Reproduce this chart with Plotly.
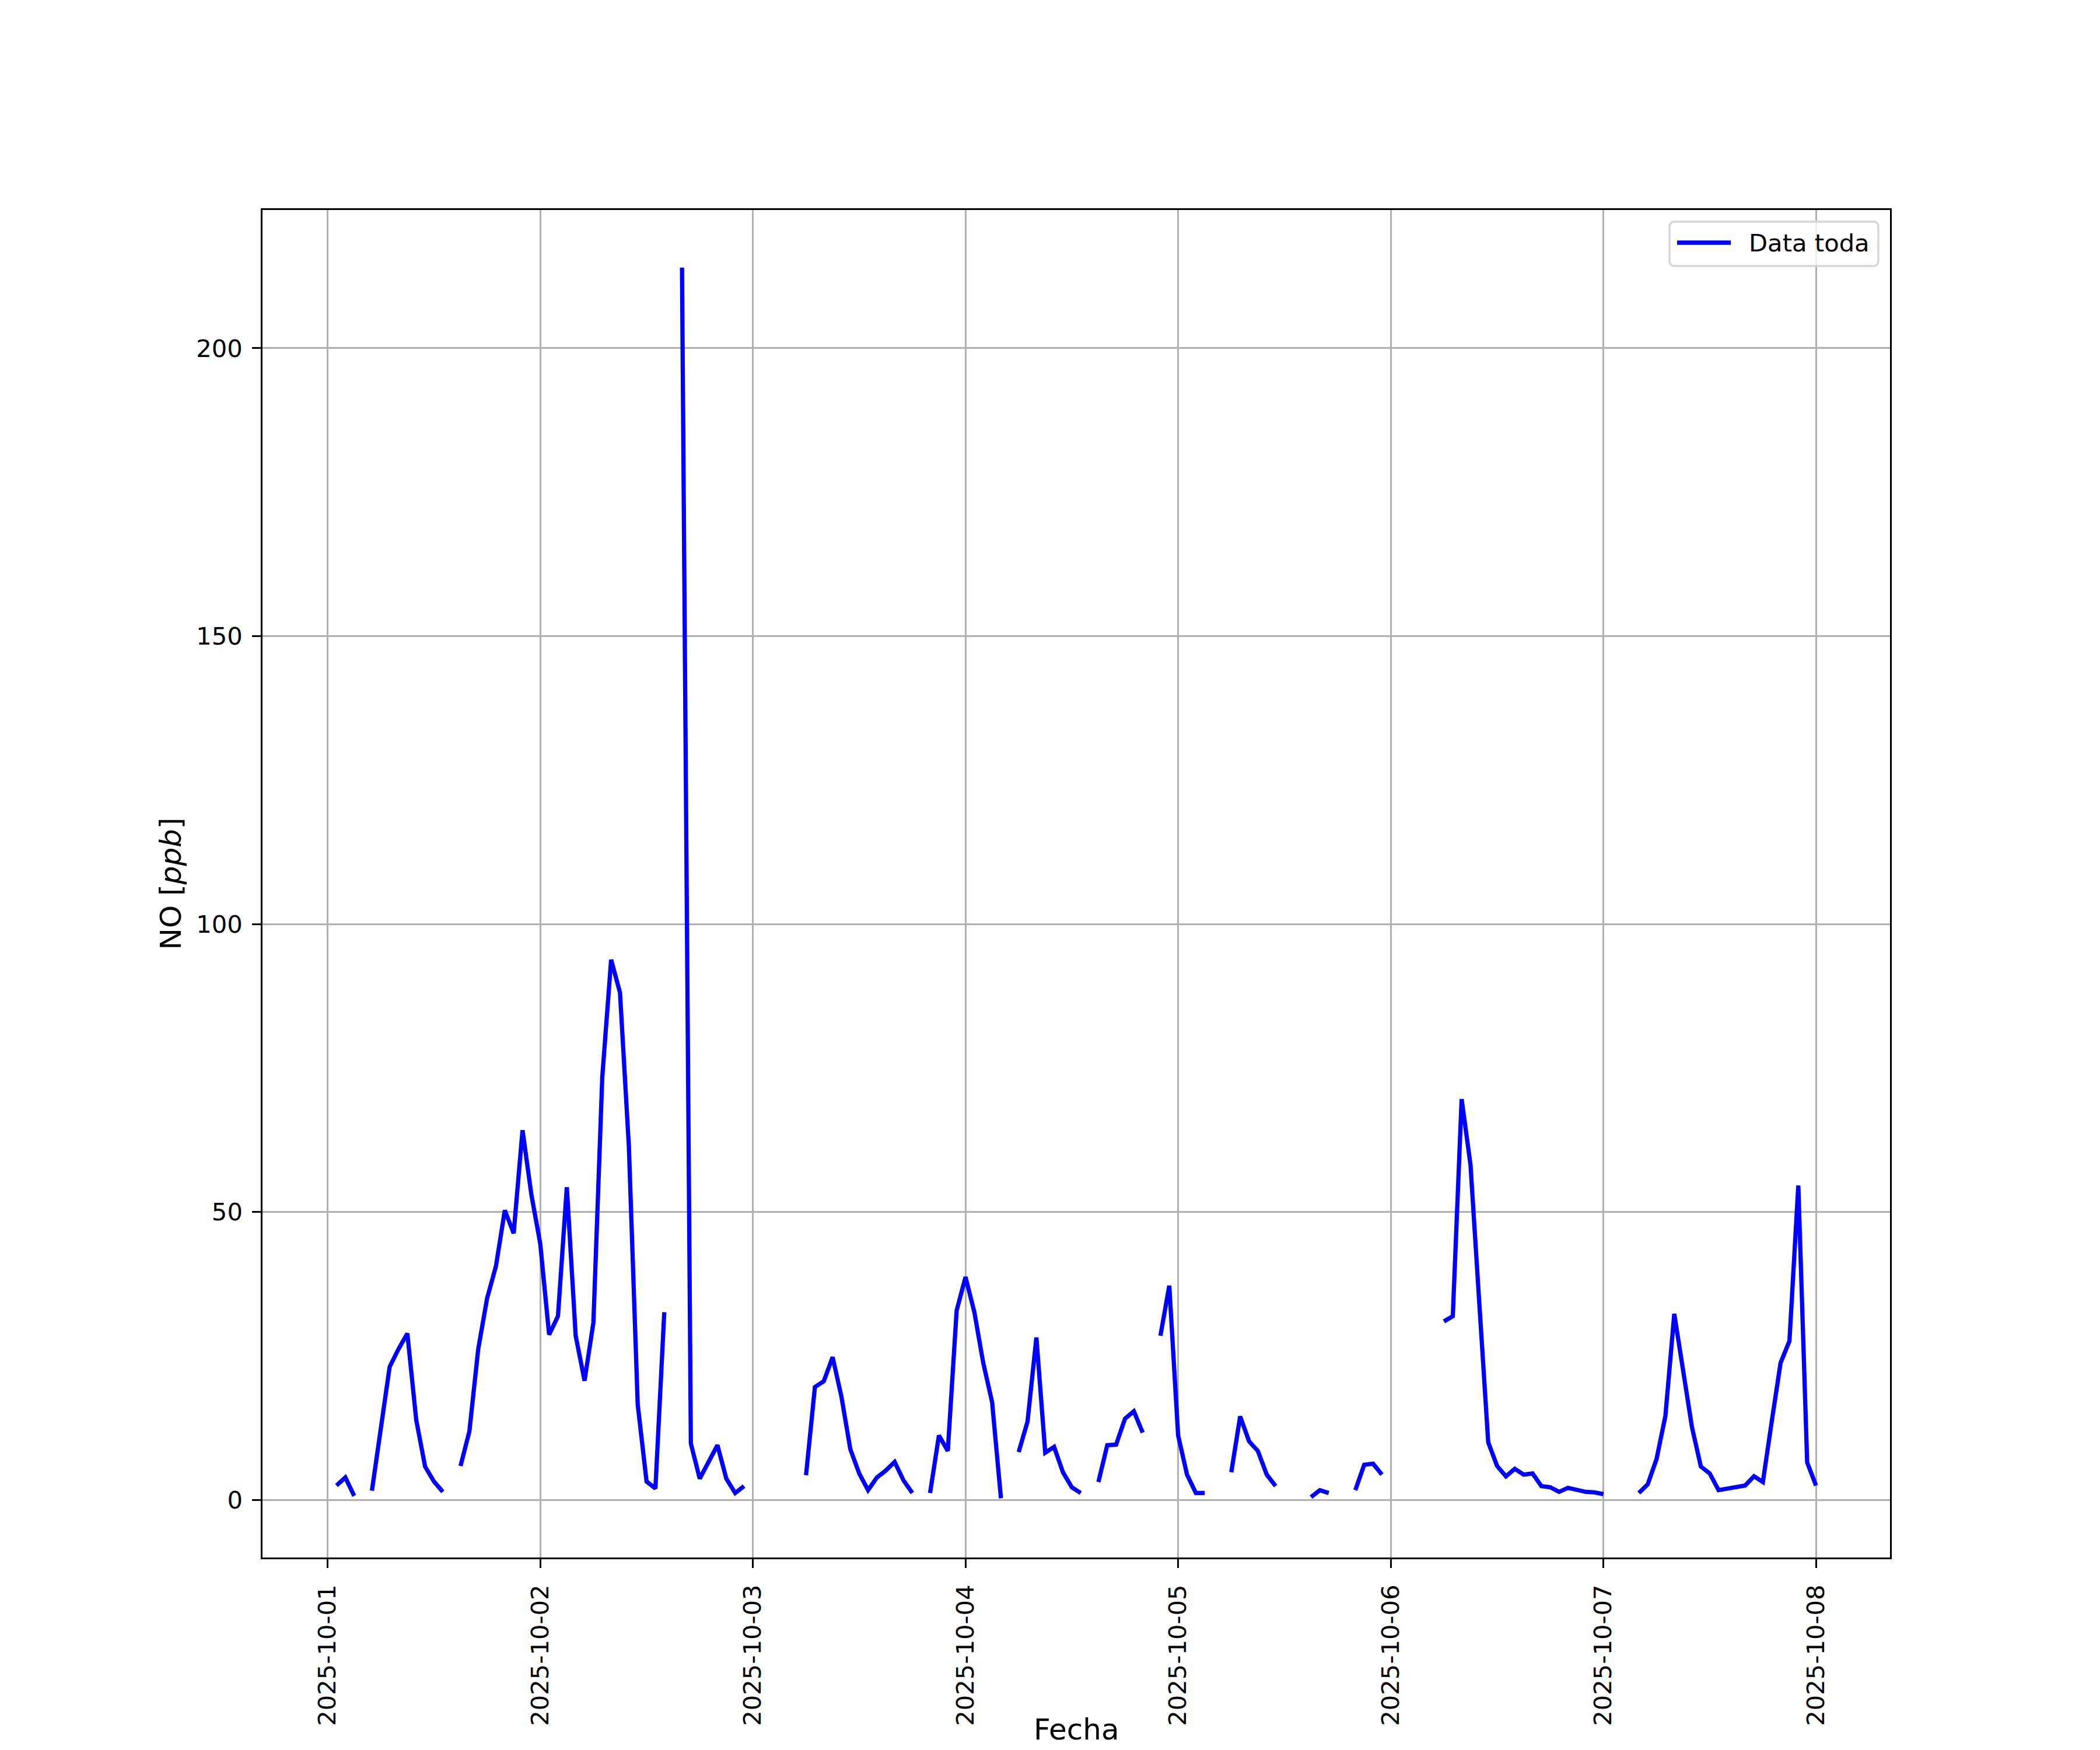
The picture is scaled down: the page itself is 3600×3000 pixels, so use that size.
import pandas as pd
import plotly.graph_objects as go

N = None
# Hourly NO [ppb] values, one list per day (hours 00..23); None = missing
oct01 = [N, 2.5, 3.9, 0.7, N, 1.6, 12.5, 23.1, 26.2, 28.9, 13.9, 5.8,
         3.2, 1.4, N, 5.9, 11.9, 26.2, 35.0, 40.6, 50.3, 46.3, 64.2, 53.0]
oct02 = [44.5, 28.7, 31.9, 54.3, 28.5, 20.7, 30.8, 73.4, 93.8, 88.1, 61.5, 16.6,
         3.2, 2.0, 32.6, N, 214.0, 9.8, 3.7, 6.8, 9.5, 3.7, 1.2, 2.4]
oct03 = [N, N, N, N, N, N, 4.3, 19.6, 20.6, 24.8, 17.9, 8.8,
         4.6, 1.7, 3.9, 5.1, 6.6, 3.4, 1.2, N, 1.2, 11.2, 8.5, 32.9]
oct04 = [38.7, 32.6, 23.8, 17.0, 0.3, N, 8.3, 13.6, 28.2, 8.2, 9.2, 4.8,
         2.2, 1.2, N, 3.1, 9.5, 9.6, 14.1, 15.4, 11.7, N, 28.5, 37.2]
oct05 = [11.2, 4.4, 1.2, 1.2, N, N, 4.8, 14.5, 10.2, 8.5, 4.4, 2.4,
         N, N, N, 0.5, 1.7, 1.2, N, N, 1.7, 6.1, 6.3, 4.4]
oct06 = [N, N, N, N, N, N, 31.0, 31.9, 69.6, 58.2, 34.0, 10.0,
         5.9, 4.1, 5.4, 4.4, 4.6, 2.4, 2.2, 1.4, 2.1, 1.8, 1.4, 1.3]
oct07 = [1.0, N, N, N, 1.2, 2.7, 7.1, 14.6, 32.3, 22.4, 12.6, 5.8,
         4.6, 1.7, 2.0, 2.2, 2.5, 4.1, 3.1, 13.6, 23.8, 27.6, 54.6, 6.5]
oct08 = [2.5]

values = oct01 + oct02 + oct03 + oct04 + oct05 + oct06 + oct07 + oct08
times = pd.date_range("2025-10-01 00:00", periods=len(values), freq="h")

day_ticks = ["2025-10-01", "2025-10-02", "2025-10-03", "2025-10-04",
             "2025-10-05", "2025-10-06", "2025-10-07", "2025-10-08"]
y_ticks = [0, 50, 100, 150, 200]

series_name = "Data toda"
x_title = "Fecha"
y_title = "NO [<i>ppb</i>]"

BLUE = "#0000ff"
FONT = "DejaVu Sans"
OFF = 8  # page body margin offset
W, H = 3600 - OFF, 3000 - OFF
L, T = 450 - OFF, 360 - OFF
PW, PH = 2790, 2310
R, B = W - L - PW, H - T - PH

fig = go.Figure()
fig.add_trace(go.Scatter(
    x=times, y=values, mode="lines", name=series_name,
    line=dict(color=BLUE, width=7.3), connectgaps=False, showlegend=False,
))

axis_common = dict(
    showline=True, linecolor="black", linewidth=3.3, mirror=True,
    ticks="outside", ticklen=14.6, tickwidth=3.3, tickcolor="black",
    showgrid=True, gridcolor="#b0b0b0", gridwidth=3.3, zeroline=False,
    tickfont=dict(family=FONT, size=41.7, color="black"),
)

fig.update_layout(
    width=W, height=H,
    margin=dict(l=L, r=R, t=T, b=B, autoexpand=False),
    paper_bgcolor="white", plot_bgcolor="white",
    font=dict(family=FONT, color="black"),
    xaxis=dict(
        axis_common, type="date",
        range=["2025-09-30 16:39:00", "2025-10-08 08:21:00"],
        tickvals=day_ticks, ticktext=day_ticks, tickangle=-90,
        ticklabelstandoff=12, automargin=False,
    ),
    yaxis=dict(
        axis_common, range=[-10.0, 224.0], tickvals=y_ticks,
        ticklabelstandoff=8, automargin=False,
        title=dict(text=y_title, font=dict(family=FONT, size=50, color="black"), standoff=10),
    ),
)

def fx(px):
    return (px - OFF - L) / PW

def fy(py):
    return (H + OFF - B - py) / PH

# x-axis title placed like matplotlib's (centered under the axes)
fig.add_annotation(text=x_title, xref="paper", yref="paper",
                   x=0.5, y=fy(2965), xanchor="center", yanchor="middle",
                   showarrow=False, font=dict(family=FONT, size=50, color="black"))

# Legend drawn in matplotlib style (upper right, rounded frame)
x0, x1, y0, y1, r = 2862, 3220, 380, 456, 9
rx, ry = r / PW, r / PH
X0, X1, Yt, Yb = fx(x0), fx(x1), fy(y0), fy(y1)
path = (
    f"M {X0+rx},{Yt} L {X1-rx},{Yt} Q {X1},{Yt} {X1},{Yt-ry} "
    f"L {X1},{Yb+ry} Q {X1},{Yb} {X1-rx},{Yb} "
    f"L {X0+rx},{Yb} Q {X0},{Yb} {X0},{Yb+ry} "
    f"L {X0},{Yt-ry} Q {X0},{Yt} {X0+rx},{Yt} Z"
)
fig.add_shape(type="path", path=path, xref="paper", yref="paper",
              line=dict(color="#d6d6d6", width=3.3),
              fillcolor="rgba(255,255,255,0.8)", layer="above")
fig.add_shape(type="line", xref="paper", yref="paper",
              x0=fx(2875), x1=fx(2967), y0=fy(416), y1=fy(416),
              line=dict(color=BLUE, width=7.3), layer="above")
fig.add_annotation(text=series_name, xref="paper", yref="paper",
                   x=fx(2996), y=fy(417), xanchor="left", yanchor="middle",
                   showarrow=False, font=dict(family=FONT, size=41.7, color="black"))

fig.write_html("out.html")
